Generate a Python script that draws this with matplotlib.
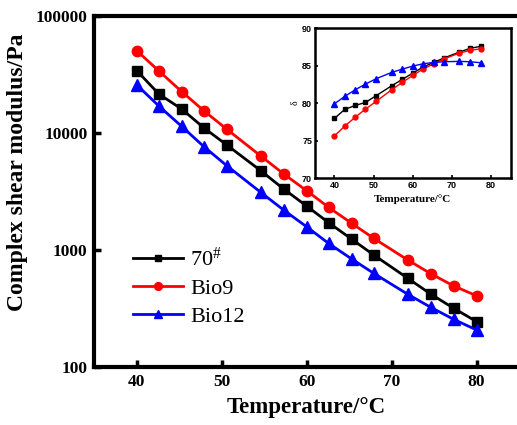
import matplotlib.pyplot as plt
from matplotlib.ticker import FixedLocator, FixedFormatter, NullLocator

# temperatures (°C)
temp = [40, 42.6, 45.3, 47.9, 50.6, 54.6, 57.3, 60, 62.6, 65.3, 67.9, 71.9, 74.6, 77.3, 80]

# complex shear modulus (Pa)
g_70 = [33900, 21400, 15900, 11000, 7850, 4730, 3300, 2360, 1700, 1230, 901, 570, 418, 316, 243]
g_bio9 = [50200, 33700, 22400, 15400, 10700, 6320, 4440, 3190, 2300, 1680, 1250, 817, 624, 490, 404]
g_bio12 = [25600, 16900, 11300, 7600, 5220, 3090, 2180, 1570, 1130, 833, 628, 416, 322, 254, 206]

# phase angle (inset)
temp_in = temp[:14]
d_70 = [77.96, 79.16, 79.69, 80.09, 80.98, 82.31, 83.16, 84.0, 84.8, 85.42, 86.0, 86.8, 87.29, 87.56]
d_bio9 = [75.64, 76.93, 78.13, 79.2, 80.22, 81.78, 82.76, 83.69, 84.53, 85.24, 85.87, 86.67, 87.02, 87.24]
d_bio12 = [79.91, 80.89, 81.78, 82.53, 83.24, 84.09, 84.53, 84.93, 85.24, 85.42, 85.51, 85.56, 85.51, 85.38]

serif = ['Liberation Serif', 'DejaVu Serif']
sans = ['Liberation Sans', 'DejaVu Sans']
plt.rcParams['mathtext.fontset'] = 'custom'
plt.rcParams['mathtext.rm'] = 'Liberation Serif'
plt.rcParams['mathtext.it'] = 'Liberation Serif:italic'

fig = plt.figure(figsize=(5.17, 4.25), dpi=100)
ax = fig.add_axes([0.1824, 0.1372, 0.8215, 0.8259])

ax.plot(temp, g_70, color='black', marker='s', ms=6.5, lw=2, label='70$^{\\#}$')
ax.plot(temp, g_bio9, color='red', marker='o', ms=7.5, lw=2, label='Bio9')
ax.plot(temp, g_bio12, color='blue', marker='^', ms=8, lw=2, label='Bio12')

ax.set_yscale('log')
ax.set_ylim(100, 100000)
ax.set_xlim(35, 85)
ax.yaxis.set_major_locator(FixedLocator([100, 1000, 10000, 100000]))
ax.yaxis.set_major_formatter(FixedFormatter(['100', '1000', '10000', '100000']))
ax.yaxis.set_minor_locator(NullLocator())
ax.set_xticks([40, 50, 60, 70, 80])
ax.tick_params(direction='in', length=5, width=2.5, labelsize=12.5, pad=5)
for lab in ax.get_xticklabels() + ax.get_yticklabels():
    lab.set_family(serif)
    lab.set_fontweight('bold')
for s in ax.spines.values():
    s.set_linewidth(3)

ax.set_xlabel('Temperature/°C', family=serif, fontweight='bold', fontsize=16.5, labelpad=5)
ax.set_ylabel('Complex shear modulus/Pa', family=serif, fontweight='bold', fontsize=17)
ax.yaxis.set_label_coords(-0.155, 0.555)

leg = ax.legend(loc='upper left', bbox_to_anchor=(0.045, 0.395), frameon=False,
                prop={'family': serif, 'size': 16}, handlelength=2.25,
                handletextpad=0.3, labelspacing=0.32, markerscale=0.75)

# inset: phase angle
ins = fig.add_axes([0.609, 0.5805, 0.379, 0.3536])
ins.plot(temp_in, d_70, color='black', marker='s', ms=3.5, lw=1)
ins.plot(temp_in, d_bio9, color='red', marker='o', ms=3.5, lw=1)
ins.plot(temp_in, d_bio12, color='blue', marker='^', ms=4, lw=1)
ins.set_xlim(35, 85)
ins.set_ylim(70, 90)
ins.set_xticks([40, 50, 60, 70, 80])
ins.set_yticks([70, 75, 80, 85, 90])
ins.tick_params(direction='in', length=2.5, width=1.2, labelsize=6.5, pad=2)
for lab in ins.get_xticklabels() + ins.get_yticklabels():
    lab.set_family(sans)
    lab.set_fontweight('bold')
for s in ins.spines.values():
    s.set_linewidth(1.8)
ins.set_xlabel('Temperature/°C', family=serif, fontweight='bold', fontsize=8, labelpad=3)
ins.set_ylabel('δ', family=serif, fontsize=7, labelpad=2)

fig.savefig('out.png', dpi=100)
